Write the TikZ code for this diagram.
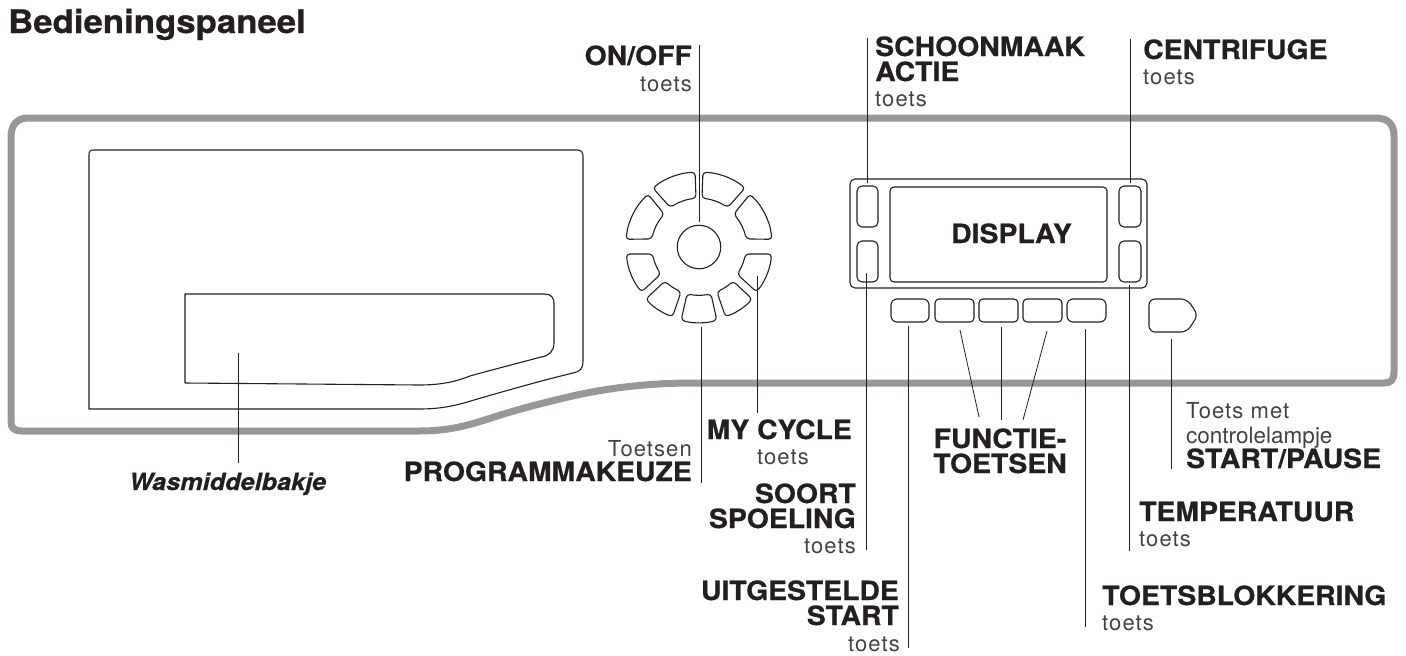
\documentclass[tikz,border=0pt]{standalone}
\usepackage{fontspec}
\setmainfont{TeX Gyre Heros}
\newfontfamily\heavy[BoldFeatures={FakeBold=0.6,FakeStretch=1.07},BoldItalicFeatures={FakeBold=0.5,FakeStretch=1.07}]{TeX Gyre Heros}
\newfontfamily\lite[LetterSpace=5]{TeX Gyre Heros}
\definecolor{frame}{HTML}{9A9697}
\definecolor{ink}{HTML}{231F20}
\tikzset{
  x=1pt,y=-1pt,
  ln/.style={draw=ink,line width=1.1pt,line join=round},
  keyb/.style={ln,rounded corners=3.5pt},
  lead/.style={draw=ink,line width=0.8pt},
  bt/.style={font=\heavy\bfseries\fontsize{26.5}{26.5}\selectfont,text=ink,inner sep=0pt},
  lt/.style={font=\lite\fontsize{22}{22}\selectfont,text=ink!85,inner sep=0pt},
}
% outer angle from, outer angle to, inner angle from, inner angle to, outer radius, inner radius
\newcommand\dialkey[6]{\draw[keyb] (#1:#5) -- ({#1+(#2-#1)/4}:#5+0.5) -- ({#1+(#2-#1)/2}:#5+0.5) -- ({#1+3*(#2-#1)/4}:#5+0.5) -- (#2:#5)
  -- (#4:#6) -- ({#4+(#3-#4)/3}:#6) -- ({#4+2*(#3-#4)/3}:#6) -- (#3:#6) -- cycle;}
\newcommand\dialhalf{%
  \dialkey{232}{267}{234}{266.5}{75}{49}
  \dialkey{226}{186}{223.4}{189.7}{73.5}{48}
  \dialkey{174.5}{142}{171.5}{144.6}{73}{47}
  \dialkey{135.6}{110.8}{135}{111.8}{74.5}{48.3}
}
\begin{document}
\begin{tikzpicture}
\useasboundingbox (0,0) rectangle (1406,656);
% frame
\draw[frame,line width=7pt,line join=round]
 (28,118) -- (1375,118) .. controls (1388,118) and (1394,124) .. (1394,136)
 -- (1394,372) .. controls (1394,380) and (1391,383) .. (1384,383) -- (693,383)
 .. controls (640,383) and (595,390) .. (560,399) .. controls (530,406) and (510,412) .. (494,417)
 .. controls (470,425) and (450,431) .. (419,431)
 -- (22,431) .. controls (14,431) and (11,428) .. (11,422) -- (11,137) .. controls (11,125) and (17,118) .. (28,118) -- cycle;
% drawer
\draw[ln] (89,155) .. controls (89,151) and (90,150) .. (94,150) -- (577,150)
 .. controls (581,150) and (583,152) .. (583,156) -- (583,362)
 .. controls (583,368) and (580,372) .. (573,373) .. controls (540,381) and (505,391) .. (474,400)
 .. controls (455,406) and (440,409) .. (419,409) -- (89,409) -- cycle;
\draw[ln] (185,294) -- (545,294) .. controls (551,294) and (554,298) .. (554,303) -- (554,343)
 .. controls (554,351) and (549,356) .. (541,357) .. controls (515,364) and (495,369) .. (470,376)
 .. controls (455,382) and (440,385) .. (419,385) -- (185,383) -- cycle;
% dial
\node[circle,ln,minimum size=43.5pt,inner sep=0pt] (dial) at (699,247) {};
\begin{scope}[shift={(699,247)}]
  \dialhalf
  \dialkey{103.7}{76.3}{104.3}{75.7}{75.5}{48.5}
\end{scope}
\begin{scope}[shift={(699,247)},xscale=-1]
  \dialhalf
\end{scope}
% display
\draw[ln,rounded corners=5pt] (850,179) rectangle (1147,288);
\draw[ln,rounded corners=4pt] (890,187) rectangle (1107,282);
\draw[ln,rounded corners=5pt] (857,186) rectangle (878,227);
\draw[ln,rounded corners=5pt] (857,241) rectangle (878,282);
\draw[ln,rounded corners=5pt] (1119,186) rectangle (1141,227);
\draw[ln,rounded corners=5pt] (1119,241) rectangle (1141,282);
\draw[ln,rounded corners=6pt] (891,299) rectangle (929,322);
\draw[ln,rounded corners=4pt] (935,299) rectangle (974,322);
\draw[ln,rounded corners=4pt] (979,299) rectangle (1018,322);
\draw[ln,rounded corners=4pt] (1023,299) rectangle (1062,322);
\draw[ln,rounded corners=6pt] (1067,299) rectangle (1106,322);
\draw[ln,rounded corners=6pt] (1149,299) -- (1187,299) -- (1198,315) -- (1187,332) -- (1149,332) -- cycle;
\node[bt,anchor=base west] (display) at (951,243) {DISPLAY};
% leaders
\draw[lead] (238.5,353) -- (238.5,463);
\draw[lead] (699,45) -- (699,222);
\draw[lead] (701,327) -- (701,483);
\draw[lead] (757,276) -- (757,413);
\draw[lead] (867.5,38) -- (867.5,183);
\draw[lead] (1130,39) -- (1130,183);
\draw[lead] (866,273) -- (866,550);
\draw[lead] (908,326) -- (908,648);
\draw[lead] (960,330) -- (979,417);
\draw[lead] (1001,327) -- (1001,420);
\draw[lead] (1047,331) -- (1023,420);
\draw[lead] (1085,329) -- (1085,627);
\draw[lead] (1129.5,285) -- (1129.5,551);
\draw[lead] (1171.5,339) -- (1171.5,469);
% labels
\node[bt,anchor=base west,font=\heavy\bfseries\fontsize{32.5}{32.5}\selectfont] (title) at (8,33) {Bedieningspaneel};
\node[bt,anchor=base east] (onoff) at (692,65) {ON/OFF};
\node[lt,anchor=base east] (onoffb) at (692,91) {toets};
\node[bt,anchor=base west] (clean) at (875,56) {SCHOONMAAK};
\node[bt,anchor=base west] (cleanb) at (875,81) {ACTIE};
\node[lt,anchor=base west] (cleanc) at (875,106) {toets};
\node[bt,anchor=base west] (spin) at (1143,59) {CENTRIFUGE};
\node[lt,anchor=base west] (spinb) at (1143,84) {toets};
\node[bt,anchor=base west,font=\heavy\bfseries\itshape\fontsize{23.6}{23.6}\selectfont] (soap) at (129,490) {Wasmiddelbakje};
\node[lt,anchor=base east] (prog) at (692,456) {Toetsen};
\node[bt,anchor=base east] (progb) at (692,481) {PROGRAMMAKEUZE};
\node[bt,anchor=base east] (cycle) at (852,439) {MY CYCLE};
\node[lt,anchor=base east] (cycleb) at (809,464) {toets};
\node[bt,anchor=base east] (rinse) at (856,503) {SOORT};
\node[bt,anchor=base east] (rinseb) at (856,528) {SPOELING};
\node[lt,anchor=base east] (rinsec) at (856,553) {toets};
\node[bt,anchor=base east] (delay) at (899,600) {UITGESTELDE};
\node[bt,anchor=base east] (delayb) at (899,625) {START};
\node[lt,anchor=base east] (delayc) at (900,651) {toets};
\node[bt,anchor=base] (func) at (1000,448) {FUNCTIE-};
\node[bt,anchor=base] (funcb) at (1000,473) {TOETSEN};
\node[lt,anchor=base west] (sp) at (1186,418) {Toets met};
\node[lt,anchor=base west,font=\fontsize{22.5}{22.5}\selectfont] (spb) at (1186,443) {controlelampje};
\node[bt,anchor=base west] (spc) at (1186,468) {START/PAUSE};
\node[bt,anchor=base west] (temp) at (1139,521) {TEMPERATUUR};
\node[lt,anchor=base west] (tempb) at (1139,546) {toets};
\node[bt,anchor=base west] (lock) at (1102,605) {TOETSBLOKKERING};
\node[lt,anchor=base west] (lockb) at (1102,630) {toets};
\end{tikzpicture}
\end{document}
